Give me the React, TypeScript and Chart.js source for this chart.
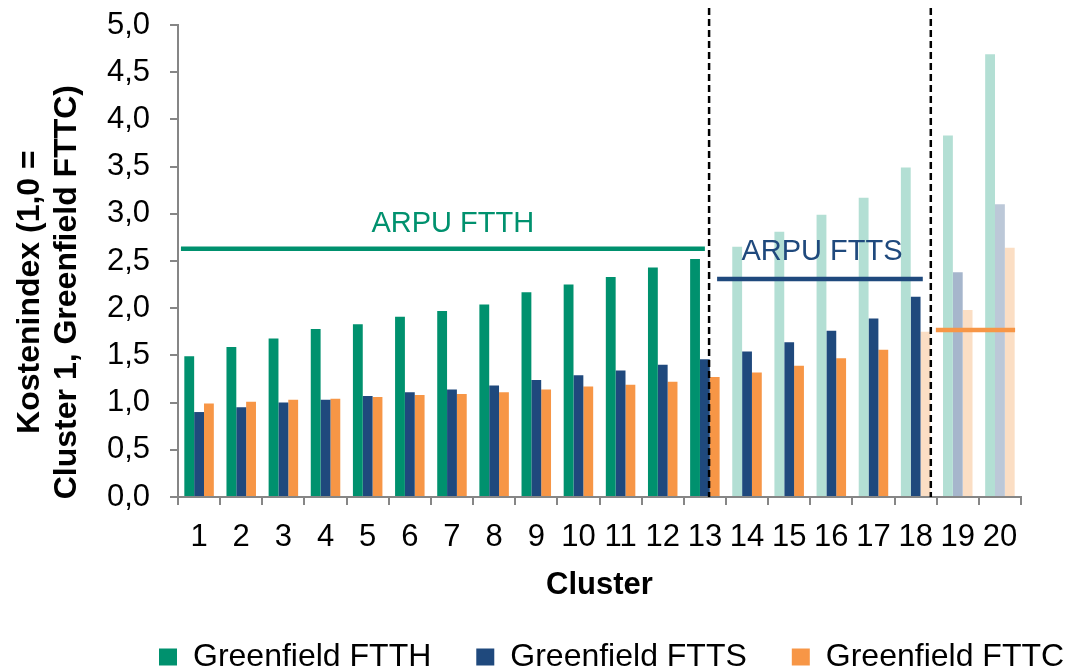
import React, { useEffect, useRef } from 'react';
import { Chart, registerables } from 'chart.js';

Chart.register(...registerables);

// ---------- data ----------
const clusters = ['1', '2', '3', '4', '5', '6', '7', '8', '9', '10', '11', '12', '13', '14', '15', '16', '17', '18', '19', '20'];
const seriesNames = ['Greenfield FTTH', 'Greenfield FTTS', 'Greenfield FTTC'];

const ftth = [1.49, 1.59, 1.68, 1.78, 1.83, 1.91, 1.97, 2.04, 2.17, 2.25, 2.33, 2.43, 2.52, 2.65, 2.81, 2.99, 3.17, 3.49, 3.83, 4.69];
const ftts = [0.90, 0.95, 1.00, 1.03, 1.07, 1.11, 1.14, 1.18, 1.24, 1.29, 1.34, 1.40, 1.46, 1.54, 1.64, 1.76, 1.89, 2.12, 2.38, 3.10];
const fttc = [0.99, 1.01, 1.03, 1.04, 1.06, 1.08, 1.09, 1.11, 1.14, 1.17, 1.19, 1.22, 1.27, 1.32, 1.39, 1.47, 1.56, 1.75, 1.98, 2.64];

// clusters drawn faded per series
const ftthFaded = ['14', '15', '16', '17', '18', '19', '20'];
const fttsFaded = ['19', '20'];
const fttcFaded = ['18', '19', '20'];

// ARPU reference lines (value on y; start/end in category units)
const arpuLabels = ['ARPU FTTH', 'ARPU FTTS', ''];
const arpuValues = [2.63, 2.31, 1.77];
const arpuStart = [-0.43, 12.29, 17.48];
const arpuEnd = [12.0, 17.17, 19.36];
const arpuLabelPos = [6.02, 14.78, 0];
const arpuLabelValue = [2.89, 2.6, 0];

// vertical dashed separators (category units) and their top value
const separators = [12.1, 17.36];
const separatorTop = 5.18;

// ---------- styles ----------
const FONT = '"Liberation Sans", Arial, Helvetica, sans-serif';
const GREEN = '#00916E';
const GREEN_PALE = '#B3DFD4';
const BLUE = '#1F497D';
const BLUE_PALE = ['#A6B6CC', '#BCC8D8'];
const ORANGE = '#F79646';
const ORANGE_PALE = '#FBDEC4';
const AXIS = '#868686';
const arpuColors = [GREEN, BLUE, ORANGE];

const ftthColors = clusters.map((c) => (ftthFaded.includes(c) ? GREEN_PALE : GREEN));
const fttsColors = clusters.map((c) => {
  const k = fttsFaded.indexOf(c);
  return k >= 0 ? BLUE_PALE[k] : BLUE;
});
const fttcColors = clusters.map((c) => (fttcFaded.includes(c) ? ORANGE_PALE : ORANGE));
const legendColors = [GREEN, BLUE, ORANGE];

const overlayPlugin = {
  id: 'overlay',
  afterLayout(chart: any) {
    const lg = chart.legend;
    if (!lg) return;
    const w = lg.width;
    const h = lg.height;
    const pad = lg.options.labels.padding;
    lg.left = 159 - pad;
    lg.right = lg.left + w;
    lg.top = 657 - pad - 16;
    lg.bottom = lg.top + h;
  },
  afterDatasetsDraw(chart: any) {
    const { ctx, scales } = chart;
    const x = scales.x;
    const y = scales.y;
    const x0 = x.getPixelForValue(0);
    const cw = x.getPixelForValue(1) - x0;
    const px = (v: number) => x0 + v * cw;
    ctx.save();
    // separators
    ctx.strokeStyle = '#000';
    ctx.lineWidth = 2.5;
    ctx.setLineDash([7, 4]);
    separators.forEach((s) => {
      ctx.beginPath();
      ctx.moveTo(px(s), y.getPixelForValue(separatorTop));
      ctx.lineTo(px(s), y.getPixelForValue(0));
      ctx.stroke();
    });
    ctx.setLineDash([]);
    // ARPU lines
    arpuValues.forEach((v, i) => {
      ctx.strokeStyle = arpuColors[i];
      ctx.lineWidth = 4.5;
      ctx.beginPath();
      ctx.moveTo(px(arpuStart[i]), y.getPixelForValue(v));
      ctx.lineTo(px(arpuEnd[i]), y.getPixelForValue(v));
      ctx.stroke();
      if (arpuLabels[i]) {
        ctx.fillStyle = arpuColors[i];
        ctx.font = `29px ${FONT}`;
        ctx.textAlign = 'center';
        ctx.textBaseline = 'middle';
        ctx.fillText(arpuLabels[i], px(arpuLabelPos[i]), y.getPixelForValue(arpuLabelValue[i]));
      }
    });
    ctx.restore();
  },
};

export default function App() {
  const ref = useRef<HTMLCanvasElement | null>(null);

  useEffect(() => {
    document.body.style.margin = '0';
    if (!ref.current) return;
    Chart.defaults.font.family = FONT;
    Chart.defaults.color = '#000';
    const chart = new Chart(ref.current, {
      type: 'bar',
      data: {
        labels: clusters,
        datasets: [
          { label: seriesNames[0], data: ftth, backgroundColor: ftthColors, borderWidth: 0 },
          { label: seriesNames[1], data: ftts, backgroundColor: fttsColors, borderWidth: 0 },
          { label: seriesNames[2], data: fttc, backgroundColor: fttcColors, borderWidth: 0 },
        ],
      },
      options: {
        animation: false,
        responsive: false,
        devicePixelRatio: 1,
        layout: { padding: { top: 25, left: 0, right: 0, bottom: 0 } },
        datasets: { bar: { categoryPercentage: 0.7, barPercentage: 1.0 } },
        plugins: {
          tooltip: { enabled: false },
          legend: {
            position: 'bottom',
            align: 'start',
            labels: {
              font: { size: 32, family: FONT },
              color: '#000',
              boxWidth: 18,
              boxHeight: 17,
              padding: 45,
              generateLabels: () =>
                seriesNames.map((t, i) => ({
                  text: t,
                  fillStyle: legendColors[i],
                  strokeStyle: legendColors[i],
                  lineWidth: 0,
                  hidden: false,
                  datasetIndex: i,
                })),
            },
          },
        },
        scales: {
          x: {
            grid: {
              display: true,
              drawOnChartArea: false,
              drawTicks: true,
              tickLength: 8,
              color: AXIS,
              lineWidth: 2,
              offset: true,
            },
            border: { color: AXIS, width: 2 },
            ticks: {
              font: { size: 31, family: FONT },
              color: '#000',
              padding: 14,
              maxRotation: 0,
              autoSkip: false,
            },
            title: {
              display: true,
              text: 'Cluster',
              color: '#000',
              font: { size: 31, weight: 'bold', family: FONT, lineHeight: 1 },
              padding: { top: 0, bottom: -17.5 },
            },
            afterFit: (s: any) => {
              s.height = 86;
            },
          },
          y: {
            min: 0,
            max: 5,
            grid: {
              display: true,
              drawOnChartArea: false,
              drawTicks: true,
              tickLength: 8,
              color: AXIS,
              lineWidth: 2,
            },
            border: { color: AXIS, width: 2 },
            ticks: {
              stepSize: 0.5,
              font: { size: 31, family: FONT },
              color: '#000',
              padding: 20,
              callback: (v: any) => Number(v).toFixed(1).replace('.', ','),
            },
            title: {
              display: true,
              text: ['Kostenindex (1,0 =       ', 'Cluster 1, Greenfield FTTC)       '],
              color: '#000',
              font: { size: 32, weight: 'bold', family: FONT, lineHeight: 1.15 },
              padding: { top: 12, bottom: 0 },
            },
            afterFit: (s: any) => {
              s.width = 178;
              s.paddingTop = 19;
              s.paddingBottom = 19;
            },
          },
          y2: {
            type: 'linear',
            position: 'right',
            display: true,
            grid: { display: false },
            border: { display: false },
            ticks: { display: false },
            afterFit: (s: any) => {
              s.width = 47;
              s.paddingTop = 0;
              s.paddingBottom = 0;
            },
          },
        },
      } as any,
      plugins: [overlayPlugin],
    });
    return () => chart.destroy();
  }, []);

  return (
    <div style={{ width: 1068, height: 670 }}>
      <canvas ref={ref} width={1068} height={670} style={{ display: 'block' }} />
    </div>
  );
}
